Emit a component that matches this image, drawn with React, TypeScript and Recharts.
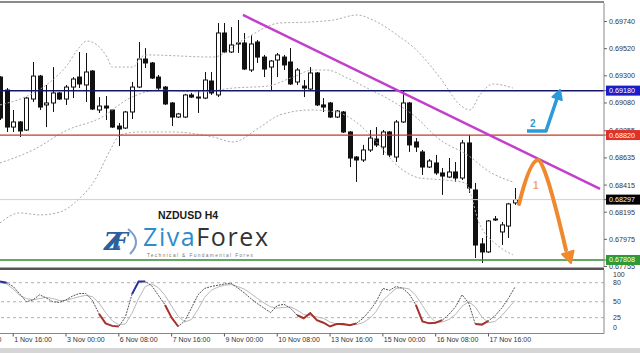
import React from "react";
import {
  ComposedChart,
  LineChart,
  Bar,
  Line,
  XAxis,
  YAxis,
  ReferenceLine,
} from "recharts";

// H4 candles, index 0 = leftmost bar (31 Oct)
const opens = [
  0.6929, 0.69185, 0.68885, 0.68926, 0.68861, 0.69112, 0.69298, 0.69064, 0.6908, 0.69161,
  0.69112, 0.69209, 0.6929, 0.69226, 0.69339, 0.69023, 0.69055, 0.69023, 0.68893, 0.68877,
  0.69007, 0.69209, 0.69436, 0.69404, 0.6929, 0.69209, 0.6908, 0.68966, 0.68966, 0.69145,
  0.69128, 0.6912, 0.69258, 0.69145, 0.69647, 0.69493, 0.69566, 0.69566, 0.69347, 0.69574,
  0.69452, 0.69371, 0.69428, 0.69452, 0.69412, 0.6925, 0.69217, 0.69193, 0.69323, 0.69064,
  0.6908, 0.68966, 0.69007, 0.68845, 0.68642, 0.68618, 0.68699, 0.68788, 0.68723, 0.68845,
  0.68642, 0.68926, 0.6908, 0.68764, 0.68683, 0.68561, 0.68594, 0.68513, 0.6848, 0.68521,
  0.68472, 0.68756, 0.68375, 0.67938, 0.67873, 0.68132, 0.68035, 0.68083, 0.6827,
];
const highs = [
  0.69298, 0.69201, 0.69023, 0.68934, 0.69128, 0.69412, 0.69307, 0.69226, 0.69371, 0.69169,
  0.69226, 0.6929, 0.69493, 0.69485, 0.69347, 0.69128, 0.69136, 0.69031, 0.68918, 0.69015,
  0.6925, 0.69574, 0.69525, 0.69412, 0.69307, 0.69217, 0.69088, 0.68999, 0.69153, 0.69161,
  0.69185, 0.69331, 0.69331, 0.69728, 0.69728, 0.69695, 0.69752, 0.69647, 0.6963, 0.6959,
  0.69469, 0.69428, 0.69485, 0.69469, 0.69525, 0.69363, 0.69266, 0.69371, 0.69331, 0.6912,
  0.69088, 0.69023, 0.69015, 0.68853, 0.6865, 0.6874, 0.68861, 0.68885, 0.68861, 0.68853,
  0.68942, 0.69177, 0.69088, 0.68796, 0.68699, 0.68626, 0.68659, 0.68553, 0.68634, 0.68602,
  0.6878, 0.68821, 0.68432, 0.67986, 0.68132, 0.68164, 0.68116, 0.6827, 0.68391,
];
const lows = [
  0.68942, 0.68845, 0.68845, 0.68804, 0.68853, 0.69088, 0.69023, 0.68885, 0.69007, 0.69104,
  0.69064, 0.6912, 0.69201, 0.69088, 0.69023, 0.68999, 0.68942, 0.68877, 0.68731, 0.68869,
  0.6895, 0.69201, 0.69363, 0.69274, 0.69185, 0.69064, 0.68893, 0.68958, 0.68958, 0.6912,
  0.68999, 0.69112, 0.69145, 0.69128, 0.69485, 0.69485, 0.69485, 0.69347, 0.69331, 0.69404,
  0.6929, 0.69185, 0.6929, 0.69347, 0.69226, 0.69226, 0.69128, 0.69185, 0.69055, 0.69007,
  0.68958, 0.68958, 0.68837, 0.68561, 0.6844, 0.68602, 0.68683, 0.68723, 0.68659, 0.68642,
  0.68602, 0.68918, 0.68683, 0.68683, 0.68497, 0.68553, 0.68497, 0.68335, 0.68472, 0.6844,
  0.68456, 0.68351, 0.67824, 0.67784, 0.67865, 0.68124, 0.67929, 0.67986, 0.68254,
];
const closes = [
  0.68958, 0.68885, 0.68926, 0.68853, 0.6912, 0.69298, 0.69047, 0.6908, 0.69161, 0.69112,
  0.69209, 0.69274, 0.69234, 0.69331, 0.69031, 0.69055, 0.69039, 0.68885, 0.68869, 0.69007,
  0.69209, 0.69436, 0.69404, 0.69282, 0.69201, 0.69072, 0.68966, 0.68991, 0.69145, 0.69128,
  0.6912, 0.69266, 0.69161, 0.69647, 0.69493, 0.6955, 0.69558, 0.69355, 0.69558, 0.69452,
  0.69355, 0.6942, 0.69469, 0.69388, 0.69234, 0.69347, 0.69201, 0.69323, 0.69064, 0.69047,
  0.68966, 0.69015, 0.68845, 0.68634, 0.68618, 0.68699, 0.68796, 0.6874, 0.68845, 0.68659,
  0.68926, 0.6908, 0.6874, 0.68723, 0.68561, 0.6861, 0.68513, 0.68488, 0.68521, 0.68472,
  0.68756, 0.68391, 0.67929, 0.67873, 0.68124, 0.6814, 0.68092, 0.68262, 0.68297,
];

// bollinger bands, [bar, price] points
const upperBand = [
  [0, 0.69064], [3.8, 0.69128], [7.6, 0.6925], [10.2, 0.69388], [11.7, 0.69509],
  [13.2, 0.69582], [14.7, 0.6955], [16.2, 0.69452], [17, 0.69371], [20.2, 0.69371],
  [21.2, 0.69444], [22.3, 0.69469], [32.3, 0.69452], [36.8, 0.6959], [42.4, 0.69728],
  [47, 0.69736], [50.5, 0.69752], [54.1, 0.69793], [56.5, 0.69752], [60.6, 0.69614],
  [62.6, 0.69533], [66.7, 0.69282], [69.7, 0.69064], [71.2, 0.69023], [72.7, 0.69145],
  [74.7, 0.69234], [77.7, 0.69201],
];
const middleBand = [
  [0, 0.68594], [5, 0.68699], [10.2, 0.68861], [15.2, 0.68958], [19.7, 0.6912],
  [24.2, 0.69185], [30.3, 0.69169], [35.3, 0.69201], [40.5, 0.69217], [44.4, 0.6929],
  [47.4, 0.69347], [49.5, 0.69347], [52.6, 0.69282], [55.6, 0.69201], [59.1, 0.69104],
  [62.6, 0.68983], [66.7, 0.6878], [70.8, 0.68659], [74.2, 0.68521], [77.7, 0.6844],
];
const lowerBand = [
  [0, 0.68108], [3, 0.68189], [6.1, 0.68173], [9.1, 0.68197], [12.1, 0.6831],
  [14.1, 0.68432], [15.2, 0.68537], [16.7, 0.68699], [18.2, 0.68821], [21.2, 0.68845],
  [26.2, 0.68845], [32.3, 0.68804], [35.3, 0.68764], [39.4, 0.68885], [42.4, 0.68983],
  [47, 0.69023], [50.8, 0.69007], [54.5, 0.68902], [56.5, 0.68796], [60.6, 0.68553],
  [63.6, 0.68472], [67.4, 0.68456], [70.5, 0.68432], [72.7, 0.68092], [75.3, 0.6793],
  [77.7, 0.67849],
];

// stochastic panel
const stochMain = [
  82, 80, 74, 62, 50, 53, 61, 56, 50, 49,
  53, 59, 63, 63, 52, 31, 16, 12, 11, 26,
  62, 82, 82, 75, 60, 45, 25, 11, 20, 40,
  61, 71, 74, 76, 78, 79, 72, 64, 55, 47,
  40, 33, 44, 46, 40, 29, 24, 32, 21, 17,
  11, 15, 15, 13, 16, 24, 36, 50, 71, 68,
  74, 71, 62, 45, 19, 16, 17, 21, 30, 42,
  61, 48, 15, 14, 20, 28, 40, 55, 73,
];
const stochSignal = [
  80, 78, 70, 60, 55, 53, 55, 57, 55, 52,
  52, 55, 58, 60, 58, 48, 33, 20, 14, 15,
  32, 55, 74, 78, 72, 60, 43, 27, 18, 22,
  38, 57, 68, 73, 76, 77, 74, 70, 63, 55,
  48, 42, 40, 41, 42, 37, 30, 28, 26, 24,
  18, 15, 13, 14, 14, 17, 24, 35, 52, 62,
  71, 72, 70, 60, 44, 28, 18, 18, 22, 30,
  43, 50, 42, 26, 17, 19, 28, 40, 52,
];
const stochHighZones = [[0, 1], [20, 22]];
const stochLowZones = [[15, 18], [25, 27], [45, 54], [63, 67], [72, 74]];

const timeTicks = [-6, 2, 10, 18, 26, 34, 42, 50, 58, 66, 74];
const timeLabels = [
  "31 Oct 08:00", "1 Nov 16:00", "3 Nov 00:00", "6 Nov 08:00", "7 Nov 16:00",
  "9 Nov 00:00", "10 Nov 08:00", "13 Nov 16:00", "15 Nov 00:00", "16 Nov 08:00",
  "17 Nov 16:00",
];
const priceTicks = [
  0.6974, 0.6952, 0.693, 0.6908, 0.68855, 0.68635, 0.68415, 0.68195, 0.67975, 0.67755,
];
const stochTicks = [0, 25, 50, 80, 100];
const stochLevels = [80, 50, 25];

const trendLine = [[36.8, 0.69793], [90.9, 0.68383]];
const lastPrice = 0.68297;
// price level lines and the colour of their tag on the price scale
const levelPrices = [lastPrice, 0.6918, 0.6882, 0.67808];
const levelLineColors = ["#cfcfcf", "#16166e", "#c8372d", "#2e8b34"];
const levelTagColors = ["#000", "#1c1cc8", "#e0302a", "#2f9a35"];
const levelWidths = [1, 1.5, 1.3, 1.5];

const candles = opens.map((o, k) => ({
  k,
  open: o,
  high: highs[k],
  low: lows[k],
  close: closes[k],
}));
const toRows = (pts: number[][]) => pts.map(([k, v]) => ({ k, v }));
const inZone = (k: number, zones: number[][]) =>
  zones.some(([a, b]) => k >= a && k <= b);
const stochRows = stochMain.map((m, k) => ({
  k,
  main: m,
  signal: stochSignal[k],
  hi: inZone(k, stochHighZones) ? m : null,
  lo: inZone(k, stochLowZones) ? m : null,
}));

const X_DOMAIN = [0, 91.5];
const FONT = "'Liberation Sans', Arial, sans-serif";

const Candle = (props: any) => {
  const { x, y, width, height, payload } = props;
  if (!payload || x == null || y == null) return null;
  const top = Math.min(y, y + height);
  const bottom = Math.max(y, y + height);
  const span = payload.high - payload.low;
  const at = (v: number) =>
    span > 0 ? top + ((payload.high - v) / span) * (bottom - top) : top;
  const cx = Math.round(x + width / 2) + 0.5;
  const yo = at(payload.open);
  const yc = at(payload.close);
  const up = payload.close >= payload.open;
  return (
    <g>
      <line x1={cx} x2={cx} y1={top} y2={bottom} stroke="#111" strokeWidth={1} />
      <rect
        x={cx - 2}
        y={Math.min(yo, yc)}
        width={4}
        height={Math.max(Math.abs(yc - yo), 1)}
        fill={up ? "#fff" : "#111"}
        stroke="#111"
        strokeWidth={1}
      />
    </g>
  );
};

// plain price labels first, level tags drawn last so they sit on top
const PriceTick = (props: any) => {
  const { x, y, payload } = props;
  const v = payload.value;
  const i = levelPrices.indexOf(v);
  const text = v.toFixed(5);
  if (i < 0) {
    return (
      <text x={x} y={y} dy="0.35em" textAnchor="start" fontSize={7.2} fill="#333" fontFamily={FONT}>
        {text}
      </text>
    );
  }
  return (
    <g>
      <rect x={x - 3} y={y - 5} width={36} height={10} fill={levelTagColors[i]} />
      <text x={x} y={y} dy="0.35em" textAnchor="start" fontSize={7.2} fill="#fff" fontFamily={FONT}>
        {text}
      </text>
    </g>
  );
};

const TimeTick = (props: any) => {
  const { x, y, payload } = props;
  const i = timeTicks.indexOf(payload.value);
  return (
    <text x={x + 1} y={y} dy="0.71em" textAnchor="start" fontSize={7} fill="#333" fontFamily={FONT}>
      {timeLabels[i]}
    </text>
  );
};

const LevelTick = (props: any) => {
  const { x, y, payload } = props;
  const v = payload.value;
  const shift = v === 100 ? 5 : v === 0 ? -6 : 0;
  return (
    <text x={x} y={y + shift} dy="0.35em" textAnchor="start" fontSize={7} fill="#333" fontFamily={FONT}>
      {v}
    </text>
  );
};

export default function App() {
  return (
    <div
      style={{
        position: "absolute",
        left: 0,
        top: 0,
        width: 640,
        height: 353,
        background: "#fff",
        overflow: "hidden",
        fontFamily: FONT,
      }}
    >
      <div style={{ position: "absolute", left: 0, top: 0 }}>
        <ComposedChart
          width={640}
          height={270}
          data={candles}
          margin={{ top: 3, right: 0, bottom: 3, left: 0 }}
        >
          <XAxis dataKey="k" type="number" domain={X_DOMAIN} allowDataOverflow hide />
          <YAxis
            orientation="right"
            width={36}
            domain={[0.67751, 0.6989]}
            allowDataOverflow
            ticks={[...priceTicks, ...levelPrices]}
            interval={0}
            tick={<PriceTick />}
            tickSize={3}
            tickMargin={2}
            axisLine={{ stroke: "#888" }}
            tickLine={{ stroke: "#666" }}
          />
          <Line data={toRows(upperBand)} dataKey="v" type="monotone" stroke="#aaa" strokeDasharray="2 2" dot={false} isAnimationActive={false} />
          <Line data={toRows(middleBand)} dataKey="v" type="monotone" stroke="#aaa" strokeDasharray="2 2" dot={false} isAnimationActive={false} />
          <Line data={toRows(lowerBand)} dataKey="v" type="monotone" stroke="#aaa" strokeDasharray="2 2" dot={false} isAnimationActive={false} />
          {levelPrices.map((p, i) => (
            <ReferenceLine key={p} y={p} stroke={levelLineColors[i]} strokeWidth={levelWidths[i]} />
          ))}
          <Bar dataKey={(d: any) => [d.low, d.high]} shape={<Candle />} isAnimationActive={false} />
          <ReferenceLine
            segment={[
              { x: trendLine[0][0], y: trendLine[0][1] },
              { x: trendLine[1][0], y: trendLine[1][1] },
            ]}
            stroke="#c23fcc"
            strokeWidth={2.5}
          />
        </ComposedChart>
      </div>

      <div style={{ position: "absolute", left: 0, top: 266 }}>
        <LineChart
          width={640}
          height={87}
          data={stochRows}
          margin={{ top: 4, right: 0, bottom: 0, left: 0 }}
        >
          <XAxis
            dataKey="k"
            type="number"
            domain={X_DOMAIN}
            allowDataOverflow
            ticks={timeTicks}
            interval={0}
            tick={<TimeTick />}
            tickSize={3}
            tickMargin={1}
            height={19.5}
            axisLine={{ stroke: "#888" }}
            tickLine={{ stroke: "#555" }}
          />
          <YAxis
            orientation="right"
            width={36}
            domain={[0, 100]}
            ticks={stochTicks}
            interval={0}
            tick={<LevelTick />}
            tickLine={false}
            tickMargin={3}
            axisLine={{ stroke: "#888" }}
          />
          {stochLevels.map((l) => (
            <ReferenceLine key={l} y={l} stroke="#b0b0b0" strokeDasharray="3 3" />
          ))}
          <Line dataKey="signal" stroke="#b8b8b8" dot={false} isAnimationActive={false} />
          <Line dataKey="main" stroke="#555" strokeDasharray="2 1" dot={false} isAnimationActive={false} />
          <Line dataKey="hi" stroke="#27309c" strokeWidth={2} dot={false} isAnimationActive={false} />
          <Line dataKey="lo" stroke="#a8332e" strokeWidth={2} dot={false} isAnimationActive={false} />
        </LineChart>
      </div>

      <svg
        width={640}
        height={353}
        style={{ position: "absolute", left: 0, top: 0, pointerEvents: "none" }}
      >
        <rect x={0} y={1} width={604} height={2} fill="#8a8a8a" />
        <rect x={0} y={267.5} width={604} height={2.5} fill="#555" />
        <rect x={0} y={348} width={640} height={5} fill="#d6d6d6" />

        <text x={158} y={219} fontSize={10.5} fontWeight="bold" fill="#1a1a1a" fontFamily={FONT}>
          NZDUSD H4
        </text>
        <text x={104} y={250} fontSize={24} fontStyle="italic" fontWeight="bold" fill="#2b5f9e" fontFamily="'DejaVu Serif', serif" textLength={24}>
          ZF
        </text>
        <path d="M128 229 Q143 241 130 254" stroke="#7d9cc8" strokeWidth={2} fill="none" />
        <text x={143} y={246} fontSize={25} fontFamily="'Open Sans', sans-serif" textLength={125}>
          <tspan fill="#2f8ccc">Ziva</tspan>
          <tspan fill="#333">Forex</tspan>
        </text>
        <text x={147} y={256.5} fontSize={4.8} fill="#777" fontFamily={FONT} textLength={106}>
          Technical &amp; Fundamental Forex
        </text>

        <path d="M519 204 Q530 160 538 160 Q545 160 566 250" stroke="#f0892e" strokeWidth={4} fill="none" strokeLinecap="round" />
        <polygon points="571,263 573.5,250.7 562.1,254.3" fill="#f0892e" stroke="#f0892e" strokeWidth={2} strokeLinejoin="round" />
        <text x={533} y={189} fontSize={10} fontWeight="bold" fill="#f2a56a" fontFamily={FONT}>
          1
        </text>

        <polyline points="527,131 546,131 557,98.5" stroke="#2a9ad8" strokeWidth={3.5} fill="none" strokeLinejoin="round" />
        <polygon points="560,90 561.8,100.1 552.4,96.9" fill="#2a9ad8" stroke="#2a9ad8" strokeWidth={2} strokeLinejoin="round" />
        <text x={530} y={127} fontSize={10} fontWeight="bold" fill="#2a9ad8" fontFamily={FONT}>
          2
        </text>
      </svg>
    </div>
  );
}
